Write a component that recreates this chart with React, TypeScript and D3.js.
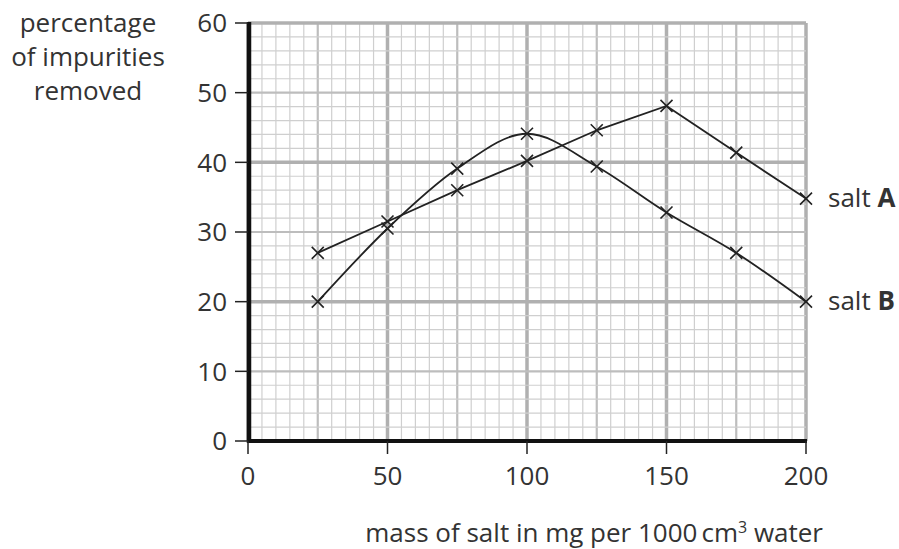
import React from 'react';
import * as d3 from 'd3';

const massValues = [25, 50, 75, 100, 125, 150, 175, 200];
const saltA = [27, 31.5, 36, 40.2, 44.6, 48.1, 41.4, 34.8];
const saltB = [20, 30.5, 39.1, 44.1, 39.4, 32.8, 27, 20];
const xTickValues = [0, 50, 100, 150, 200];
const yTickValues = [0, 10, 20, 30, 40, 50, 60];
const yTitleLines = ['percentage', 'of impurities', 'removed'];

const width = 899;
const height = 549;
const margin = { top: 23, right: 93, bottom: 108, left: 248 };
const font = "'Open Sans', sans-serif";
const fontSize = 26;
const textColor = '#333';

const App = () => {
  const x = d3.scaleLinear().domain([0, 200]).range([margin.left, width - margin.right]);
  const y = d3.scaleLinear().domain([0, 60]).range([height - margin.bottom, margin.top]);

  const series = [
    { name: 'A', values: saltA, curve: d3.curveLinear },
    { name: 'B', values: saltB, curve: d3.curveMonotoneX },
  ];

  // graph paper
  const xMinor = d3.range(0, 201, 5);
  const yMinor = d3.range(0, 61, 2);
  const xStyle = (v: number) =>
    v % 50 === 0 ? { stroke: '#b0b0b0', w: 3.5 } : v % 25 === 0 ? { stroke: '#bdbdbd', w: 2.2 } : { stroke: '#cfcfcf', w: 1.2 };
  const yStyle = (v: number) =>
    v % 20 === 0 ? { stroke: '#b0b0b0', w: 3.5 } : v % 10 === 0 ? { stroke: '#bdbdbd', w: 2.2 } : { stroke: '#cfcfcf', w: 1.2 };

  const [x0, x1] = x.range();
  const [y0, y1] = y.range();

  return (
    <svg width={width} height={height} style={{ position: 'absolute', left: 0, top: 0, background: '#fff' }}>
      <g>
        {xMinor.map(v => {
          const s = xStyle(v);
          return <line key={'gx' + v} x1={x(v)} x2={x(v)} y1={y1} y2={y0} stroke={s.stroke} strokeWidth={s.w} />;
        })}
        {yMinor.map(v => {
          const s = yStyle(v);
          return <line key={'gy' + v} x1={x0} x2={x1} y1={y(v)} y2={y(v)} stroke={s.stroke} strokeWidth={s.w} />;
        })}
      </g>

      {/* axes */}
      <line x1={x0 + 1} x2={x0 + 1} y1={y1 - 1} y2={y0 + 2} stroke="#111" strokeWidth={4.5} />
      <line x1={x0 - 1} x2={x1 + 1} y1={y0} y2={y0} stroke="#111" strokeWidth={4} />
      {yTickValues.map(v => (
        <g key={'yt' + v}>
          <line x1={x0 - 13} x2={x0} y1={y(v)} y2={y(v)} stroke="#222" strokeWidth={1.5} />
          <text x={x0 - 21} y={y(v)} dy="0.36em" textAnchor="end" fontFamily={font} fontSize={fontSize} fill={textColor}>{v}</text>
        </g>
      ))}
      {xTickValues.map(v => (
        <g key={'xt' + v}>
          <line x1={x(v)} x2={x(v)} y1={y0} y2={y0 + 13} stroke="#222" strokeWidth={1.5} />
          <text x={x(v)} y={y0 + 44} textAnchor="middle" fontFamily={font} fontSize={fontSize} fill={textColor}>{v}</text>
        </g>
      ))}

      {/* series */}
      {series.map(s => {
        const pts = massValues.map((m, i) => [x(m), y(s.values[i])] as [number, number]);
        const path = d3.line().curve(s.curve)(pts) as string;
        const last = pts[pts.length - 1];
        return (
          <g key={s.name}>
            <path d={path} fill="none" stroke="#222" strokeWidth={1.8} />
            {pts.map(([px, py], i) => (
              <path key={i} d={`M${px - 6},${py - 6}L${px + 6},${py + 6}M${px - 6},${py + 6}L${px + 6},${py - 6}`}
                stroke="#222" strokeWidth={1.6} fill="none" />
            ))}
            <text x={last[0] + 22} y={last[1] + 8} fontFamily={font} fontSize={fontSize} fill={textColor}>
              salt <tspan fontWeight="bold">{s.name}</tspan>
            </text>
          </g>
        );
      })}

      {/* titles */}
      {yTitleLines.map((t, i) => (
        <text key={t} x={88} y={32 + i * 34} textAnchor="middle" fontFamily={font} fontSize={fontSize} fill={textColor}>{t}</text>
      ))}
      <text x={823} y={542} textAnchor="end" fontFamily={font} fontSize={fontSize} fill={textColor}>
        mass of salt in mg per 1000<tspan dx="4">cm</tspan><tspan dy="-9" fontSize={16}>3</tspan><tspan dy="9"> water</tspan>
      </text>
    </svg>
  );
};

export default App;
